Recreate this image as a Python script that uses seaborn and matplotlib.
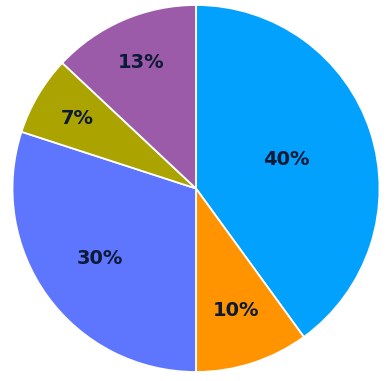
import numpy as np
import matplotlib
matplotlib.use("Agg")
import matplotlib.pyplot as plt
import seaborn as sns

categories = ["A", "B", "C", "D", "E"]
values = [40, 10, 30, 7, 13]
labels = ["40%", "10%", "30%", "7%", "13%"]
colors = ["#03A1FE", "#FF9400", "#5E75FE", "#ABA300", "#9B5BA8"]
label_radius = [0.52, 0.70, 0.65, 0.75, 0.75]

sns.set_theme(style="white")
plt.rcParams['font.family'] = ['DejaVu Sans']

W, H = 389, 381
fig = plt.figure(figsize=(W / 100, H / 100), dpi=100)
ax = fig.add_axes([0, 0, 1, 1])

cx, cy, R = 196.0, 188.5, 183.5
wedges, _ = ax.pie(values, colors=sns.color_palette(colors), startangle=90,
                   counterclock=False, radius=1.0,
                   wedgeprops=dict(edgecolor="white", linewidth=1.3))

for w, lab, r in zip(wedges, labels, label_radius):
    ang = np.deg2rad((w.theta1 + w.theta2) / 2)
    ax.text(r * np.cos(ang), r * np.sin(ang), lab, ha="center", va="center",
            fontsize=14, fontweight="bold", color="#0D1A36")

ax.set_xlim(-cx / R, (W - cx) / R)
ax.set_ylim(-(H - cy) / R, cy / R)
ax.set_aspect("auto")
ax.axis("off")
fig.savefig("out.png", dpi=100, facecolor="white")
